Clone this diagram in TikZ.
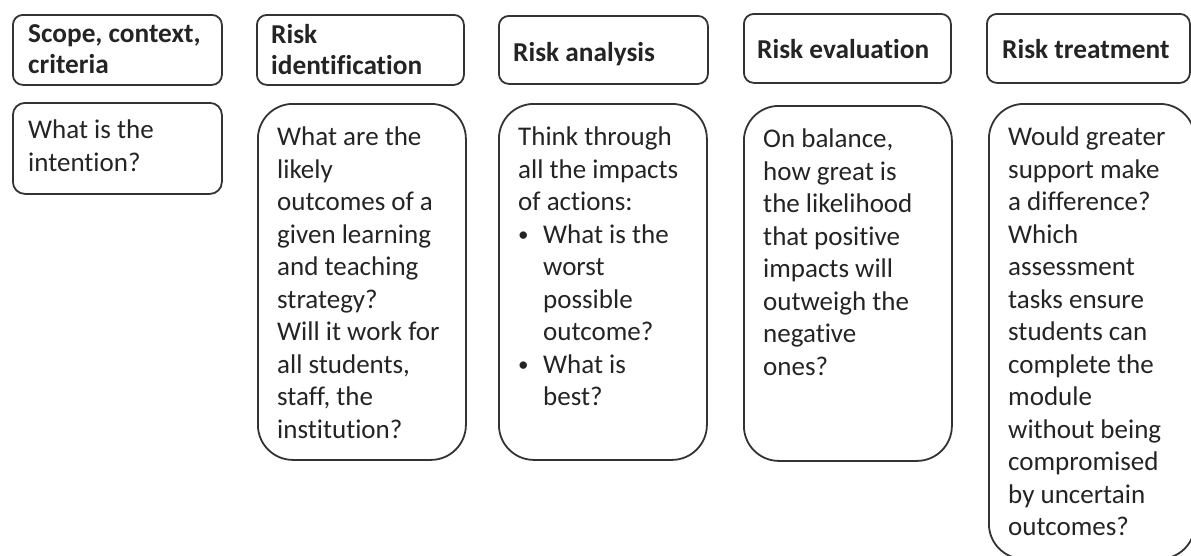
\documentclass[tikz,border=0pt]{standalone}
\usepackage{fontspec}
\setmainfont{Carlito}[Ligatures=NoCommon]
\definecolor{linegray}{HTML}{333333}
\definecolor{inkgray}{HTML}{242424}
\newcommand{\itembullet}{\makebox[25pt][l]{\raisebox{1.5pt}{\fontsize{21}{21}\selectfont\textbullet}}}
\newcommand{\itemgap}{\hspace*{25pt}}
\begin{document}
\begin{tikzpicture}[x=1pt,y=-1pt,
  frame/.style={draw=linegray, line width=1.8pt, rectangle, inner sep=0pt, anchor=north west},
  headbox/.style={frame, rounded corners=10pt},
  smallbox/.style={frame, rounded corners=12pt},
  tallbox/.style={frame, rounded corners=35pt},
  headtext/.style={anchor=north west, inner sep=0pt, align=left, text=inkgray,
    font=\fontsize{27.3}{31}\selectfont\bfseries, execute at begin node=\rule{0pt}{20pt}},
  bodytext/.style={anchor=north west, inner sep=0pt, align=left, text=inkgray,
    font=\fontsize{27}{32.5}\selectfont, execute at begin node=\rule{0pt}{20pt}}
]
\useasboundingbox (0,0) rectangle (1191,555);
\clip (0,0) rectangle (1191,555);

% column headings
\node[headbox, minimum width=209pt, minimum height=70pt] (h1) at (12,14) {};
\node[headbox, minimum width=207pt, minimum height=70pt] (h2) at (256,14) {};
\node[headbox, minimum width=209pt, minimum height=68pt] (h3) at (498,15) {};
\node[headbox, minimum width=207pt, minimum height=69pt] (h4) at (743,13) {};
\node[headbox, minimum width=203pt, minimum height=69pt] (h5) at (986,13) {};

\node[headtext] (h1t) at (28,24) {Scope, context,\\criteria};
\node[headtext] (h2t) at (271,24) {Risk\\identification};
\node[headtext] (h3t) at (513,41) {Risk analysis};
\node[headtext] (h4t) at (757,38) {Risk evaluation};
\node[headtext] (h5t) at (1002,38) {Risk treatment};

% question boxes
\node[smallbox, minimum width=209pt, minimum height=91pt] (b1) at (12,102) {};
\node[tallbox, minimum width=208pt, minimum height=356pt] (b2) at (257,103) {};
\node[tallbox, minimum width=208pt, minimum height=356pt] (b3) at (498,103) {};
\node[tallbox, minimum width=208pt, minimum height=355pt] (b4) at (743,105) {};
\node[tallbox, minimum width=206pt, minimum height=455pt] (b5) at (988,103) {};

\node[bodytext] (b1t) at (28,120) {What is the\\intention?};
\node[bodytext] (b2t) at (277,127) {What are the\\likely\\outcomes of a\\given learning\\and teaching\\strategy?\\Will it work for\\all students,\\staff, the\\institution?};
\node[bodytext] (b3t) at (518,127) {Think through\\all the impacts\\of actions:\\
  \itembullet What is the\\\itemgap worst\\\itemgap possible\\\itemgap outcome?\\
  \itembullet What is\\\itemgap best?};
\node[bodytext] (b4t) at (763,129) {On balance,\\how great is\\the likelihood\\that positive\\impacts will\\outweigh the\\negative\\ones?};
\node[bodytext] (b5t) at (1008,127) {Would greater\\support make\\a difference?\\Which\\assessment\\tasks ensure\\students can\\complete the\\module\\without being\\compromised\\by uncertain\\outcomes?};
\end{tikzpicture}
\end{document}
